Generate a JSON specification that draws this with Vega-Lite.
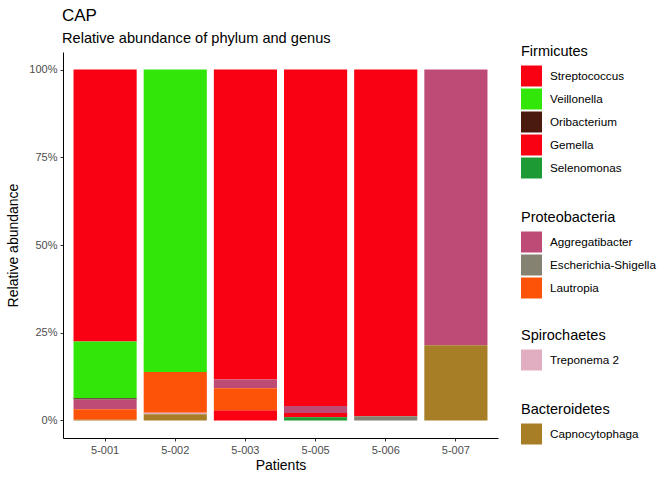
{
  "$schema": "https://vega.github.io/schema/vega-lite/v6.json",
  "width": 435,
  "height": 386,
  "autosize": {"type": "none"},
  "padding": {"left": 63, "top": 52, "right": 174, "bottom": 42},
  "background": "white",
  "title": {
    "text": "CAP",
    "subtitle": "Relative abundance of phylum and genus",
    "anchor": "start",
    "frame": "group",
    "font": "Liberation Sans",
    "fontSize": 17,
    "fontWeight": "normal",
    "color": "black",
    "subtitleFont": "Liberation Sans",
    "subtitleFontSize": 14.6,
    "subtitleColor": "black",
    "subtitlePadding": 6,
    "offset": -2,
    "dx": -1
  },
  "data": {
    "values": [
      {"patient": "5-001", "phylum": "Firmicutes", "genus": "Streptococcus", "pct": 77.5},
      {"patient": "5-001", "phylum": "Firmicutes", "genus": "Veillonella", "pct": 16.2},
      {"patient": "5-001", "phylum": "Firmicutes", "genus": "Oribacterium", "pct": 0.3},
      {"patient": "5-001", "phylum": "Proteobacteria", "genus": "Aggregatibacter", "pct": 2.8},
      {"patient": "5-001", "phylum": "Proteobacteria", "genus": "Lautropia", "pct": 3.0},
      {"patient": "5-001", "phylum": "Bacteroidetes", "genus": "Capnocytophaga", "pct": 0.2},
      {"patient": "5-002", "phylum": "Firmicutes", "genus": "Veillonella", "pct": 86.2},
      {"patient": "5-002", "phylum": "Proteobacteria", "genus": "Lautropia", "pct": 11.6},
      {"patient": "5-002", "phylum": "Spirochaetes", "genus": "Treponema 2", "pct": 0.4},
      {"patient": "5-002", "phylum": "Bacteroidetes", "genus": "Capnocytophaga", "pct": 1.8},
      {"patient": "5-003", "phylum": "Firmicutes", "genus": "Streptococcus", "pct": 88.3},
      {"patient": "5-003", "phylum": "Proteobacteria", "genus": "Aggregatibacter", "pct": 2.5},
      {"patient": "5-003", "phylum": "Proteobacteria", "genus": "Lautropia", "pct": 6.3},
      {"patient": "5-003", "phylum": "Firmicutes", "genus": "Gemella", "pct": 2.9},
      {"patient": "5-005", "phylum": "Firmicutes", "genus": "Streptococcus", "pct": 95.9},
      {"patient": "5-005", "phylum": "Proteobacteria", "genus": "Aggregatibacter", "pct": 2.0},
      {"patient": "5-005", "phylum": "Firmicutes", "genus": "Gemella", "pct": 1.2},
      {"patient": "5-005", "phylum": "Firmicutes", "genus": "Selenomonas", "pct": 0.9},
      {"patient": "5-006", "phylum": "Firmicutes", "genus": "Streptococcus", "pct": 98.8},
      {"patient": "5-006", "phylum": "Proteobacteria", "genus": "Escherichia-Shigella", "pct": 1.2},
      {"patient": "5-007", "phylum": "Proteobacteria", "genus": "Aggregatibacter", "pct": 78.6},
      {"patient": "5-007", "phylum": "Bacteroidetes", "genus": "Capnocytophaga", "pct": 21.4}
    ]
  },
  "transform": [
    {"calculate": "indexof(['Streptococcus','Veillonella','Oribacterium','Aggregatibacter','Escherichia-Shigella','Lautropia','Treponema 2','Gemella','Selenomonas','Capnocytophaga'], datum.genus)", "as": "rank"},
    {"stack": "pct", "groupby": ["patient"], "sort": [{"field": "rank", "order": "descending"}], "offset": "normalize", "as": ["y0", "y1"]}
  ],
  "encoding": {
    "x": {
      "field": "patient", "type": "nominal", "title": "Patients",
      "scale": {"paddingInner": 0.1, "paddingOuter": 0.15},
      "axis": {"labelAngle": 0}
    },
    "y": {
      "field": "y0", "type": "quantitative", "title": "Relative abundance",
      "scale": {"domain": [-0.05, 1.05], "nice": false, "zero": false},
      "axis": {"values": [0, 0.25, 0.5, 0.75, 1], "format": ".0%"}
    },
    "y2": {"field": "y1"}
  },
  "layer": [
    {
      "transform": [{"filter": "datum.phylum == 'Firmicutes'"}],
      "mark": {"type": "bar", "strokeWidth": 0},
      "encoding": {
        "color": {"field": "genus", "type": "nominal", "title": "Firmicutes",
          "scale": {"domain": ["Streptococcus", "Veillonella", "Oribacterium", "Gemella", "Selenomonas"],
                    "range": ["#F90012", "#33E60A", "#4B1A0E", "#F90012", "#1E9A34"]},
          "legend": {"orient": "none", "legendX": 458, "legendY": -7}}
      }
    },
    {
      "transform": [{"filter": "datum.phylum == 'Proteobacteria'"}],
      "mark": {"type": "bar", "strokeWidth": 0},
      "encoding": {
        "color": {"field": "genus", "type": "nominal", "title": "Proteobacteria",
          "scale": {"domain": ["Aggregatibacter", "Escherichia-Shigella", "Lautropia"],
                    "range": ["#BE4B76", "#858272", "#FD5308"]},
          "legend": {"orient": "none", "legendX": 458, "legendY": 159}}
      }
    },
    {
      "transform": [{"filter": "datum.phylum == 'Spirochaetes'"}],
      "mark": {"type": "bar", "strokeWidth": 0},
      "encoding": {
        "color": {"field": "genus", "type": "nominal", "title": "Spirochaetes",
          "scale": {"domain": ["Treponema 2"], "range": ["#E0AEC0"]},
          "legend": {"orient": "none", "legendX": 458, "legendY": 277}}
      }
    },
    {
      "transform": [{"filter": "datum.phylum == 'Bacteroidetes'"}],
      "mark": {"type": "bar", "strokeWidth": 0},
      "encoding": {
        "color": {"field": "genus", "type": "nominal", "title": "Bacteroidetes",
          "scale": {"domain": ["Capnocytophaga"], "range": ["#A77D26"]},
          "legend": {"orient": "none", "legendX": 458, "legendY": 351}}
      }
    }
  ],
  "resolve": {"scale": {"color": "independent"}},
  "config": {
    "font": "Liberation Sans",
    "view": {"stroke": null},
    "axis": {
      "grid": false,
      "domainColor": "black",
      "domainWidth": 1,
      "tickColor": "#333333",
      "tickSize": 3,
      "labelFont": "Liberation Sans",
      "labelFontSize": 11,
      "labelColor": "#4d4d4d",
      "titleFont": "Liberation Sans",
      "titleFontSize": 14,
      "titleFontWeight": "normal",
      "titleColor": "black"
    },
    "axisY": {"labelPadding": 3, "titlePadding": 8},
    "axisX": {"labelPadding": 3, "titlePadding": 3},
    "legend": {
      "symbolType": "square",
      "symbolSize": 441,
      "symbolStrokeWidth": 0,
      "symbolOpacity": 1,
      "labelFont": "Liberation Sans",
      "labelFontSize": 11.7,
      "labelColor": "black",
      "labelOffset": 8,
      "rowPadding": 2,
      "titleFont": "Liberation Sans",
      "titleFontSize": 14.5,
      "titleFontWeight": "normal",
      "titleColor": "black",
      "titlePadding": 6,
      "padding": 0,
      "titleBaseline": "top",
      "columns": 1
    }
  }
}
